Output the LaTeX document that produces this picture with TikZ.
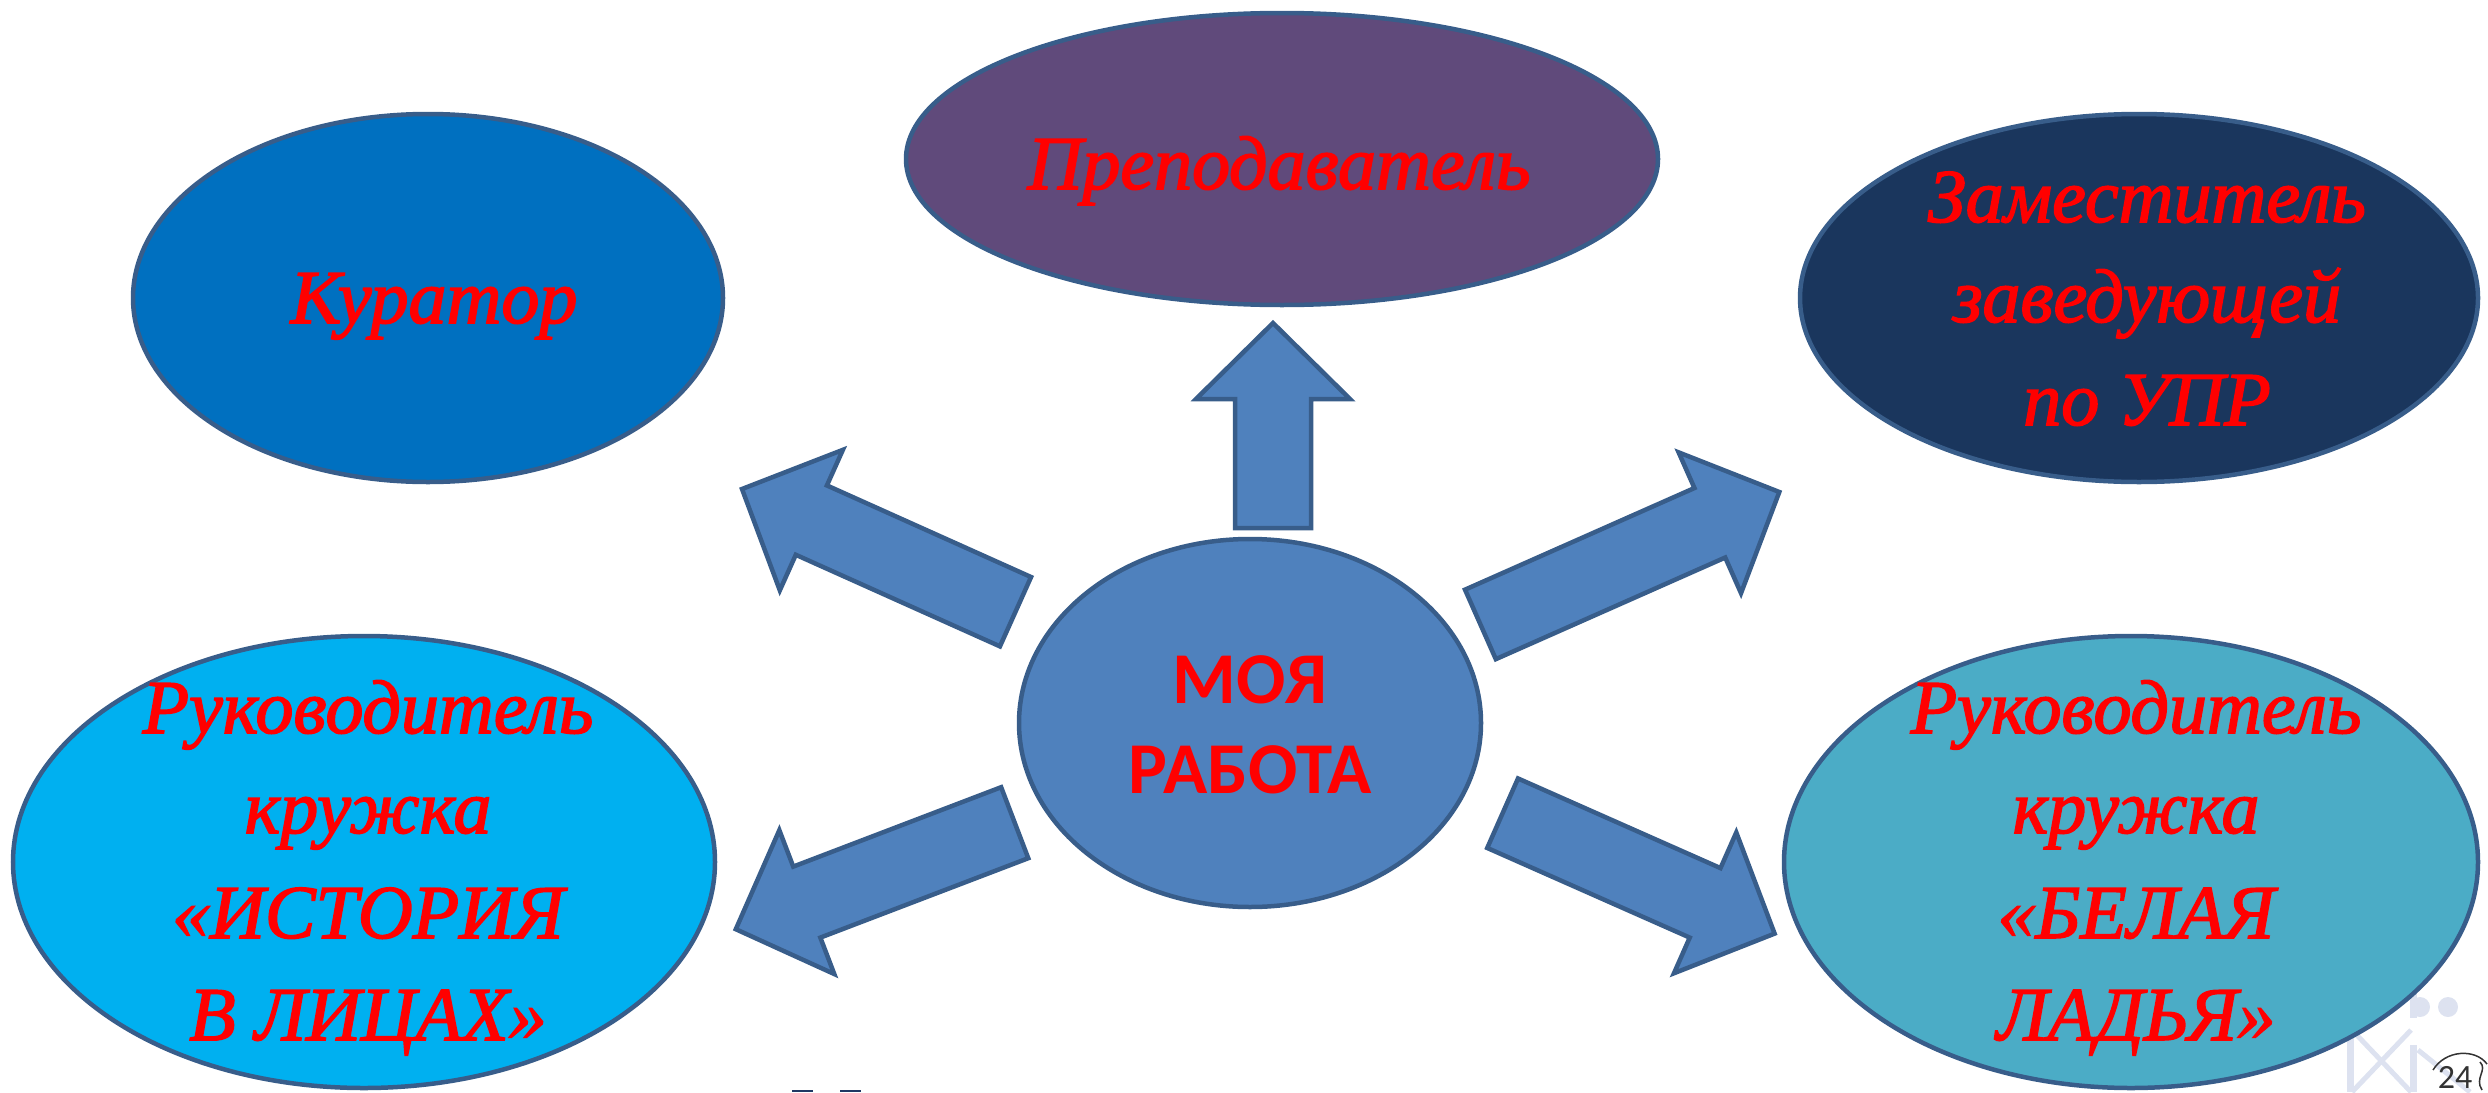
\documentclass[tikz,border=0pt]{standalone}
\usepackage{fontspec}
\setmainfont{Liberation Serif}
\newfontfamily\scriptface[FakeBold=2]{Liberation Serif}
\newfontfamily\boldsans{Carlito}
\usetikzlibrary{shapes.geometric,calc}
\definecolor{edgeblue}{HTML}{385D8A}
\definecolor{arrowblue}{HTML}{4F81BD}
\definecolor{kurblue}{HTML}{0070C0}
\definecolor{prepurple}{HTML}{604A7B}
\definecolor{zamnavy}{HTML}{1A365D}
\definecolor{istcyan}{HTML}{00B0F0}
\definecolor{belteal}{HTML}{4BACC6}
\definecolor{lattice}{HTML}{DDE2F0}
\definecolor{titlenavy}{HTML}{1F3864}
\newcommand{\barrow}[2]{%
  \coordinate (#1h) at ($(#2)!76pt!(#1)$);
  \draw[blockarrow] ($(#1)!38pt!90:(#2)$) -- ($(#1h)!38pt!-90:(#1)$) -- ($(#1h)!77pt!-90:(#1)$) -- (#2) -- ($(#1h)!77pt!90:(#1)$) -- ($(#1h)!38pt!90:(#1)$) -- ($(#1)!38pt!-90:(#2)$) -- cycle;}
\begin{document}
\begin{tikzpicture}[x=1pt,y=-1pt,
  bubble/.style={ellipse, draw=edgeblue, line width=4.5pt, inner sep=0pt, outer sep=0pt},
  script/.style={anchor=base, text=red, inner sep=0pt, font=\scriptface\itshape\fontsize{76}{90}\selectfont},
  centre/.style={anchor=base, text=red, inner sep=0pt, font=\boldsans\bfseries\fontsize{73}{85}\selectfont},
  blockarrow/.style={fill=arrowblue, draw=edgeblue, line width=4.5pt, line join=miter},
  latt/.style={draw=lattice, line width=7pt}]
\useasboundingbox (0,0) rectangle (2488,1092);
% faint background decoration (bottom right)
\draw[latt] (2350,1000) -- (2350,1092);
\draw[latt] (2413,985) -- (2413,1018);
\draw[latt] (2413,1045) -- (2413,1092);
\draw[latt, line width=5pt] (2352,1030) -- (2411,1092);
\draw[latt, line width=5pt] (2411,1030) -- (2352,1092);
\draw[latt, line width=5pt] (2418,1050) -- (2470,1092);
\fill[lattice] (2420,1007) circle (10);
\fill[lattice] (2448,1007) circle (10);
% ellipses
\node[bubble, fill=kurblue, minimum width=590pt, minimum height=368pt] (kur) at (428,298) {};
\node[bubble, fill=prepurple, minimum width=752pt, minimum height=292pt] (pre) at (1282,159) {};
\node[bubble, fill=zamnavy, minimum width=678pt, minimum height=368pt] (zam) at (2139,298) {};
\node[bubble, fill=arrowblue, minimum width=462pt, minimum height=368pt] (moy) at (1250,723) {};
\node[bubble, fill=istcyan, minimum width=702pt, minimum height=452pt] (ist) at (364,862) {};
\node[bubble, fill=belteal, minimum width=694pt, minimum height=452pt] (bel) at (2131,862) {};
% block arrows
\coordinate (upS) at (1273,528);   \coordinate (upT) at (1273,323);
\coordinate (ulS) at (1015.5,611.7); \coordinate (ulT) at (742,489);
\coordinate (urS) at (1480.4,624.4); \coordinate (urT) at (1779.3,492);
\coordinate (llS) at (1014.7,822.7); \coordinate (llT) at (735.8,929.2);
\coordinate (lrS) at (1502.6,813.2); \coordinate (lrT) at (1774.6,933.6);
\barrow{upS}{upT}
\barrow{ulS}{ulT}
\barrow{urS}{urT}
\barrow{llS}{llT}
\barrow{lrS}{lrT}
% texts
\node[script] (kurT) at (434,323) {Куратор};
\node[script] (preT) at (1279,189) {Преподаватель};
\node[script] (zam1) at (2147,222) {Заместитель};
\node[script] (zam2) at (2147,322) {заведующей};
\node[script] (zam3) at (2147,425) {по УПР};
\node[script] (ist1) at (368,733) {Руководитель};
\node[script] (ist2) at (368,833) {кружка};
\node[script] (ist3) at (368,938) {«ИСТОРИЯ};
\node[script] (ist4) at (368,1040) {В ЛИЦАХ»};
\node[script] (bel1) at (2136,733) {Руководитель};
\node[script] (bel2) at (2136,833) {кружка};
\node[script] (bel3) at (2136,938) {«БЕЛАЯ};
\node[script] (bel4) at (2136,1040) {ЛАДЬЯ»};
\node[centre] (moy1) at (1250,703) {МОЯ};
\node[centre] (moy2) at (1250,793) {РАБОТА};
% cut-off title marks at the bottom edge
\fill[titlenavy] (792,1090) rectangle (813,1092);
\fill[titlenavy] (840,1090) rectangle (861,1092);
% page number
\draw[black!80, line width=1.5pt] (2433,1070) .. controls (2445,1050) and (2475,1048) .. (2487,1064);
\node[anchor=base, inner sep=0pt, text=black!80, font=\boldsans\fontsize{34}{34}\selectfont] (pg) at (2455,1088) {24};
\draw[black!80, line width=1.5pt] (2480,1062) .. controls (2488,1070) and (2474,1078) .. (2482,1090);
\end{tikzpicture}
\end{document}
